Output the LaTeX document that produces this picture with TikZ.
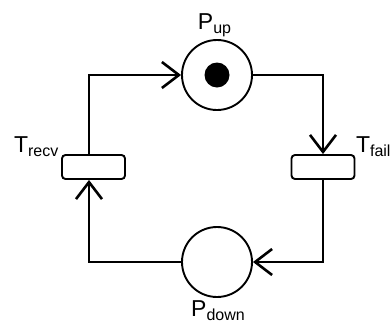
\documentclass[tikz,border=0pt]{standalone}
\usepackage{fontspec}
\setmainfont{Liberation Sans}
\usetikzlibrary{arrows.meta}
\newcommand{\biglbl}[2]{{\fontsize{23}{23}\selectfont #1\raisebox{-4.5pt}{\fontsize{16}{16}\selectfont #2}}}
\tikzset{
  place/.style={circle, draw, line width=1.9pt, minimum size=70pt, inner sep=0pt},
  token/.style={circle, fill=black, minimum size=25pt, inner sep=0pt},
  trans/.style={rectangle, draw, line width=1.9pt, rounded corners=3.5pt, minimum width=63pt, minimum height=24pt, inner sep=0pt},
  lbl/.style={inner sep=0pt, outer sep=0pt},
  tip/.style={-{Straight Barb[length=17pt,width=26pt,line width=2.6pt]}},
  thinarc/.style={line width=1.9pt, tip},
  thickarc/.style={line width=2.5pt, tip},
}
\begin{document}
\begin{tikzpicture}[x=1pt,y=-1pt]
\useasboundingbox (0,0) rectangle (391,325);
\node[place] (pup) at (217,75) {};
\node[token] (tok) at (217,75) {};
\node[place] (pdown) at (217,262) {};
\node[trans] (trecv) at (93.5,167) {};
\node[trans] (tfail) at (323,167) {};
\coordinate (lx) at (89,75);
\coordinate (rx) at (323,75);
\draw[thinarc] (lx |- trecv.north) -- (lx) -- (pup.west);
\draw[thinarc] (pup.east) -- (rx) -- (tfail.north);
\draw[thickarc] (tfail.south) |- (pdown.east);
\draw[thickarc] (pdown.west) -| (lx |- trecv.south);
\node[lbl, anchor=base] (lup) at (214.5,29) {\biglbl{P}{up}};
\node[lbl, anchor=base] (ldown) at (218,316) {\biglbl{P}{down}};
\node[lbl, anchor=base west] (lrecv) at (14,152) {\biglbl{T}{recv}};
\node[lbl, anchor=base west] (lfail) at (356,152) {\biglbl{T}{fail}};
\end{tikzpicture}
\end{document}
